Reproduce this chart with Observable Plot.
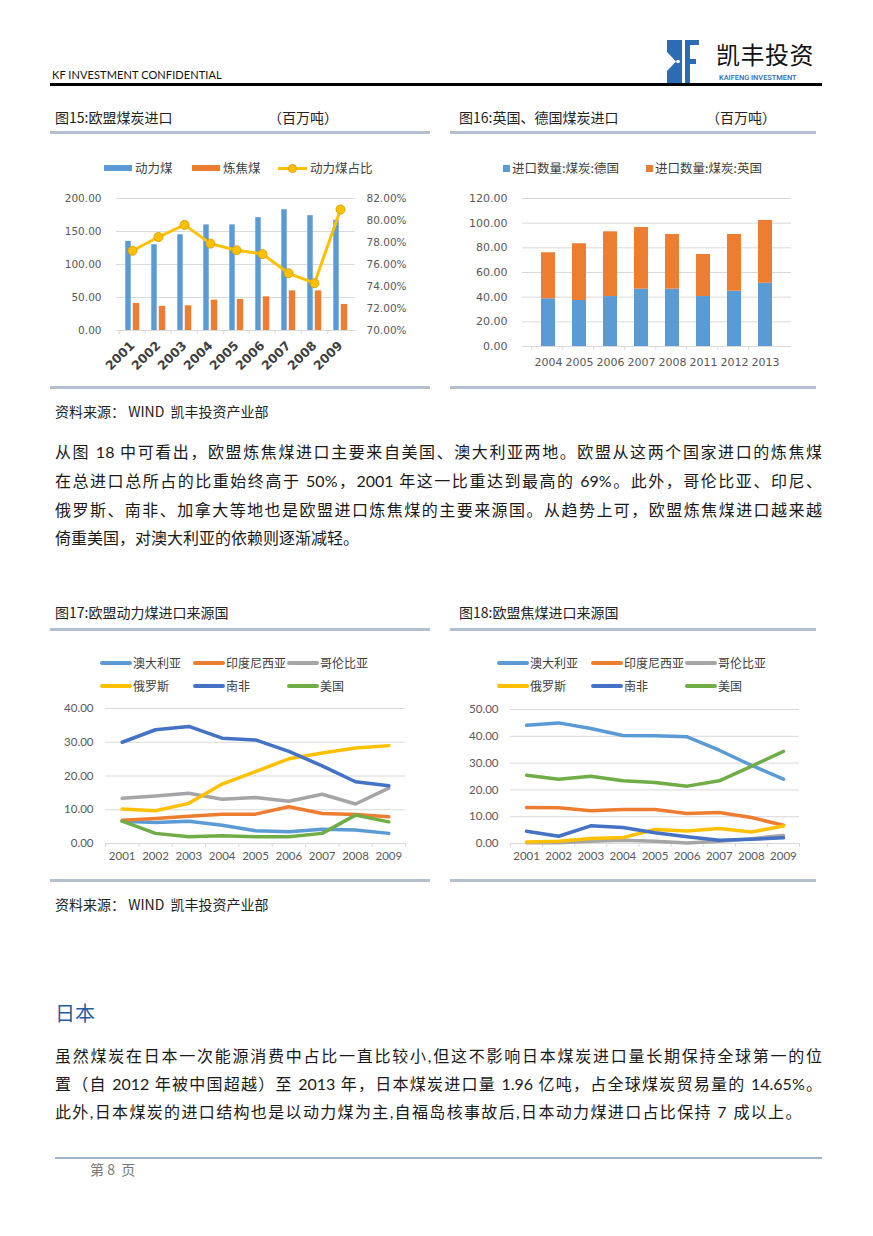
<!DOCTYPE html>
<html><head><meta charset="utf-8">
<script src="https://cdn.jsdelivr.net/npm/d3@7"></script>
<script src="https://cdn.jsdelivr.net/npm/@observablehq/plot@0.6"></script>
<style>
body{margin:0;background:#fff;}
#page{position:relative;width:873px;height:1236px;overflow:hidden;background:#fff;font-family:"Noto Sans CJK SC","Noto Sans",sans-serif;color:#222;}
.t{position:absolute;white-space:nowrap;}
.ttl{font-size:14px;line-height:20px;color:#222;}
.src{font-size:14px;line-height:20px;color:#222;}
.lg{position:absolute;font-size:12.5px;line-height:16px;color:#404040;white-space:nowrap;}
.para{position:absolute;left:55px;width:767px;font-family:"Lato","Noto Sans CJK SC",sans-serif;font-size:16px;line-height:22px;color:#1a1a1a;white-space:nowrap;}
.j{text-align:justify;text-align-last:justify;white-space:normal;}
</style>
</head><body>
<div id="page"></div>
<script>
// ---------- DATA ----------
// Fig 15: EU coal imports (million tonnes) and steam-coal share (%)
const years15 = ["2001","2002","2003","2004","2005","2006","2007","2008","2009"];
const steam15 = [135, 130, 145, 160, 160, 171, 183, 174, 167];
const coking15 = [41, 36.6, 37.5, 46, 47, 51, 60, 60, 39.5];
const share15 = [77.25, 78.5, 79.6, 77.9, 77.3, 76.95, 75.2, 74.3, 81.0];
const ticks15L = [0, 50, 100, 150, 200];
const ticks15R = [70, 72, 74, 76, 78, 80, 82];

// Fig 16: UK & Germany coal imports
const years16 = ["2004","2005","2006","2007","2008","2011","2012","2013"];
const series16 = ["进口数量:煤炭:德国","进口数量:煤炭:英国"];
const germany16 = [38.7, 37.3, 40.5, 46.5, 46.5, 40.5, 44.9, 51.3];
const uk16 = [37.3, 46.0, 52.5, 50.0, 44.3, 34.1, 45.9, 50.9];
const ticks16 = [0, 20, 40, 60, 80, 100, 120];

// Fig 17 / 18: source countries
const yearsSrc = [2001, 2002, 2003, 2004, 2005, 2006, 2007, 2008, 2009];
const countries = ["澳大利亚","印度尼西亚","哥伦比亚","俄罗斯","南非","美国"];
const countryColors = ["#5B9BD5","#ED7D31","#A5A5A5","#FFC000","#4472C4","#70AD47"];
// steam coal
const steamAus = [6.6, 6.2, 6.6, 5.4, 3.75, 3.45, 4.2, 4.0, 3.0];
const steamIdn = [6.9, 7.4, 8.1, 8.7, 8.7, 10.9, 8.9, 8.6, 7.9];
const steamCol = [13.4, 14.1, 14.9, 13.1, 13.6, 12.5, 14.6, 11.7, 16.4];
const steamRus = [10.2, 9.7, 11.9, 17.6, 21.3, 25.1, 26.8, 28.3, 29.0];
const steamZaf = [30.0, 33.7, 34.7, 31.2, 30.7, 27.3, 23.0, 18.3, 17.1];
const steamUsa = [6.6, 3.0, 2.0, 2.3, 2.0, 2.0, 3.0, 8.4, 6.4];
const ticks17 = [0, 10, 20, 30, 40];
// coking coal
const cokeAus = [44.1, 45.0, 42.9, 40.3, 40.2, 39.8, 34.8, 29.2, 24.0];
const cokeIdn = [13.4, 13.3, 12.2, 12.7, 12.7, 11.2, 11.6, 9.7, 6.8];
const cokeCol = [0.3, 0.3, 0.8, 1.2, 0.8, 0.2, 0.8, 1.8, 3.0];
const cokeRus = [0.6, 0.8, 1.9, 2.2, 5.2, 4.7, 5.6, 4.3, 6.5];
const cokeZaf = [4.6, 2.7, 6.6, 6.0, 4.0, 2.5, 1.2, 1.6, 2.1];
const cokeUsa = [25.5, 24.0, 25.1, 23.4, 22.8, 21.4, 23.4, 28.8, 34.4];
const ticks18 = [0, 10, 20, 30, 40, 50];

// ---------- helpers ----------
const page = document.getElementById("page");
function put(node, left, top) {
  node.style.position = "absolute";
  node.style.left = left + "px";
  node.style.top = top + "px";
  page.appendChild(node);
  return node;
}
function text(cls, str, left, cy, extra) {
  const d = document.createElement("div");
  d.className = cls;
  d.textContent = str;
  put(d, left, 0);
  if (extra) Object.assign(d.style, extra);
  const lh = parseFloat(getComputedStyle(d).lineHeight) || 20;
  d.style.top = (cy - lh / 2) + "px";
  return d;
}
function box(left, top, w, h, bg, extra) {
  const d = document.createElement("div");
  d.style.width = w + "px"; d.style.height = h + "px"; d.style.background = bg;
  put(d, left, top);
  if (extra) Object.assign(d.style, extra);
  return d;
}
const fmt2 = d => d.toFixed(2);
const gridColor = "#d9d9d9";
const axisText = "#595959";

// ---------- header ----------
text("t", "KF INVESTMENT CONFIDENTIAL", 52, 75, {fontFamily: "Lato, sans-serif", fontSize: "11px", lineHeight: "14px", color: "#111", letterSpacing: "0.1px"});
box(50, 83, 772, 3, "#000");
(function logo() {
  const ns = "http://www.w3.org/2000/svg";
  const s = document.createElementNS(ns, "svg");
  s.setAttribute("width", 34); s.setAttribute("height", 43);
  s.innerHTML = '<rect x="0" y="0" width="15" height="43" fill="#2b6cb5"/>' +
    '<polygon points="0,12 9,21.5 0,31" fill="#fff"/>' +
    '<circle cx="11" cy="21.5" r="1.8" fill="#fff"/>' +
    '<rect x="18" y="0" width="5" height="43" fill="#2b6cb5"/>' +
    '<rect x="18" y="0" width="14" height="5" fill="#2b6cb5"/>' +
    '<rect x="18" y="19" width="11" height="5" fill="#2b6cb5"/>';
  put(s, 667, 40);
  text("t", "凯丰投资", 716, 54, {fontSize: "24px", lineHeight: "28px", color: "#111", letterSpacing: "0.5px"});
  text("t", "KAIFENG INVESTMENT", 719, 77.5, {fontFamily: "Roboto, sans-serif", fontSize: "7.4px", lineHeight: "9px", color: "#2b6cb5", fontWeight: "500"});
})();

// ---------- Fig 15 ----------
text("t ttl", "图15:欧盟煤炭进口", 55, 117);
text("t ttl", "（百万吨）", 268, 117);
box(50, 131, 380, 3, "#b4c0cf");
box(50, 386, 380, 3, "#b4c0cf");
// legend
box(104, 165, 28, 6, "#5B9BD5");
text("lg", "动力煤", 135, 168);
box(192, 165, 28, 6, "#ED7D31");
text("lg", "炼焦煤", 223, 168);
box(278, 166.5, 29, 3, "#FFC000");
box(288, 163.5, 9, 9, "#FFC000", {borderRadius: "50%", boxSizing: "border-box", border: "1px solid #D9A400"});
text("lg", "动力煤占比", 310, 168);

const t15 = years15.map((y, i) => ({year: y, steam: steam15[i], coking: coking15[i], share: share15[i]}));
const W15 = 380, H15 = 200, M15 = {top: 13, right: 75, bottom: 55, left: 66};
const bw15 = (W15 - M15.left - M15.right) / years15.length;
const style15 = {fontFamily: "'DejaVu Sans', sans-serif", fontSize: "10.5px", color: axisText, background: "transparent", overflow: "visible"};
const c15 = Plot.plot({
  width: W15, height: H15,
  marginTop: M15.top, marginRight: M15.right, marginBottom: M15.bottom, marginLeft: M15.left,
  x: {type: "band", domain: years15, padding: 0},
  y: {domain: [0, 200]},
  style: style15,
  marks: [
    Plot.gridY({ticks: ticks15L, stroke: gridColor, strokeOpacity: 1}),
    Plot.axisY({ticks: ticks15L, tickSize: 0, tickPadding: 15, tickFormat: fmt2, fill: axisText, label: null}),
    Plot.barY(t15, {x: "year", y: "steam", fill: "#5B9BD5", insetLeft: bw15 / 2 - 7, insetRight: bw15 / 2 + 1}),
    Plot.barY(t15, {x: "year", y: "coking", fill: "#ED7D31", insetLeft: bw15 / 2 + 0.5, insetRight: bw15 / 2 - 7.5}),
    Plot.ruleY([0], {stroke: gridColor}),
    Plot.axisX({tickSize: 4, tickFormat: () => "", dx: -bw15 / 2, stroke: gridColor, label: null}),
    Plot.axisX({tickSize: 0, tickPadding: 13, tickRotate: -45, fontWeight: "bold", fontSize: 12.5, fill: "#404040", label: null})
  ]
});
put(c15, 50, 185);
const c15b = Plot.plot({
  width: W15, height: H15,
  marginTop: M15.top, marginRight: M15.right, marginBottom: M15.bottom, marginLeft: M15.left,
  x: {type: "band", domain: years15, padding: 0, axis: null},
  y: {domain: [70, 82]},
  style: style15,
  marks: [
    Plot.axisY({anchor: "right", ticks: ticks15R, tickSize: 0, tickPadding: 11, tickFormat: d => d.toFixed(2) + "%", fill: axisText, label: null}),
    Plot.line(t15, {x: "year", y: "share", stroke: "#FFC000", strokeWidth: 3, strokeLinejoin: "round"}),
    Plot.dot(t15, {x: "year", y: "share", r: 4.5, fill: "#FFC000", stroke: "#D9A400", strokeWidth: 1})
  ]
});
put(c15b, 50, 185);

// ---------- Fig 16 ----------
text("t ttl", "图16:英国、德国煤炭进口", 459, 117);
text("t ttl", "（百万吨）", 706, 117);
box(450, 131, 366, 3, "#b4c0cf");
box(450, 386, 366, 3, "#b4c0cf");
box(503, 165, 7, 7, "#5B9BD5");
text("lg", series16[0], 512, 168);
box(646, 165, 7, 7, "#ED7D31");
text("lg", series16[1], 655, 168);

const t16 = [];
years16.forEach((y, i) => {
  t16.push({year: y, series: series16[0], value: germany16[i]});
  t16.push({year: y, series: series16[1], value: uk16[i]});
});
const c16 = Plot.plot({
  width: 366, height: 200,
  marginTop: 13, marginRight: 25, marginBottom: 39, marginLeft: 72,
  x: {type: "band", domain: years16, padding: 0.55},
  y: {domain: [0, 120]},
  color: {domain: series16, range: ["#5B9BD5", "#ED7D31"]},
  style: {fontFamily: "'DejaVu Sans', sans-serif", fontSize: "11px", color: axisText, background: "transparent", overflow: "visible"},
  marks: [
    Plot.gridY({ticks: ticks16, stroke: gridColor, strokeOpacity: 1}),
    Plot.axisY({ticks: ticks16, tickSize: 0, tickPadding: 15, tickFormat: fmt2, fill: axisText, label: null}),
    Plot.barY(t16, {x: "year", y: "value", fill: "series"}),
    Plot.ruleY([0], {stroke: gridColor}),
    Plot.axisX({tickSize: 4, tickFormat: () => "", dx: -(366 - 97) / years16.length / 2, stroke: gridColor, label: null}),
    Plot.axisX({tickSize: 0, tickPadding: 12, fill: axisText, label: null})
  ]
});
put(c16, 450, 185);

// ---------- Fig 17 / 18 ----------
function longTable(arrs) {
  const out = [];
  arrs.forEach((arr, k) => arr.forEach((v, i) => out.push({year: yearsSrc[i], country: countries[k], value: v})));
  return out;
}
function srcLegend(cols) {
  const rows = [663, 686];
  countries.forEach((c, k) => {
    const r = Math.floor(k / 3), col = k % 3;
    box(cols[col], rows[r] - 2, 32, 4, countryColors[k], {borderRadius: "2px"});
    text("lg", c, cols[col] + 33, rows[r], {fontSize: "12px"});
  });
}
function srcChart(arrs, ticks, W, M) {
  const xDom = [yearsSrc[0] - 0.5, yearsSrc[yearsSrc.length - 1] + 0.5];
  return Plot.plot({
    width: W, height: 185,
    marginTop: M.top, marginRight: M.right, marginBottom: M.bottom, marginLeft: M.left,
    x: {domain: xDom},
    y: {domain: [ticks[0], ticks[ticks.length - 1]]},
    color: {domain: countries, range: countryColors},
    style: {fontFamily: "Lato, sans-serif", fontSize: "11.5px", color: axisText, background: "transparent", overflow: "visible"},
    marks: [
      Plot.gridY({ticks, stroke: gridColor, strokeOpacity: 1}),
      Plot.axisY({ticks, tickSize: 0, tickPadding: 12, tickFormat: fmt2, fill: axisText, label: null}),
      Plot.axisX({ticks: d3.range(xDom[0], xDom[1] + 0.01, 1), tickSize: 4, tickFormat: () => "", stroke: gridColor, label: null}),
      Plot.axisX({ticks: yearsSrc, tickSize: 0, tickPadding: 8, tickFormat: d => String(d), fill: axisText, label: null}),
      Plot.line(longTable(arrs), {x: "year", y: "value", stroke: "country", strokeWidth: 3.5, strokeLinecap: "round", strokeLinejoin: "round"})
    ]
  });
}

text("t ttl", "图17:欧盟动力煤进口来源国", 55, 612);
box(50, 628, 380, 3, "#b4c0cf");
box(50, 879, 380, 3, "#b4c0cf");
srcLegend([100, 193, 287]);
put(srcChart([steamAus, steamIdn, steamCol, steamRus, steamZaf, steamUsa], ticks17, 380, {top: 13, right: 25, bottom: 37, left: 55}), 50, 695);

text("t ttl", "图18:欧盟焦煤进口来源国", 459, 612);
box(450, 628, 366, 3, "#b4c0cf");
box(450, 879, 366, 3, "#b4c0cf");
srcLegend([497, 591, 685]);
put(srcChart([cokeAus, cokeIdn, cokeCol, cokeRus, cokeZaf, cokeUsa], ticks18, 366, {top: 14, right: 17, bottom: 37, left: 60}), 450, 695);

// ---------- source lines ----------
text("t src", "资料来源： WIND\u00a0\u00a0凯丰投资产业部", 55, 411);
text("t src", "资料来源： WIND\u00a0\u00a0凯丰投资产业部", 55, 904);

// ---------- body text ----------
const para1 = [
  "从图 18 中可看出，欧盟炼焦煤进口主要来自美国、澳大利亚两地。欧盟从这两个国家进口的炼焦煤",
  "在总进口总所占的比重始终高于 50%，2001 年这一比重达到最高的 69%。此外，哥伦比亚、印尼、",
  "俄罗斯、南非、加拿大等地也是欧盟进口炼焦煤的主要来源国。从趋势上可，欧盟炼焦煤进口越来越",
  "倚重美国，对澳大利亚的依赖则逐渐减轻。"
];
[452, 481, 510, 538].forEach((cy, i) => {
  text("para" + (i < 3 ? " j" : ""), para1[i], 55, cy);
});
text("t", "日本", 55, 1013, {fontSize: "20px", lineHeight: "26px", color: "#1f5e9e"});
const para2 = [
  "虽然煤炭在日本一次能源消费中占比一直比较小,但这不影响日本煤炭进口量长期保持全球第一的位",
  "置（自 2012 年被中国超越）至 2013 年，日本煤炭进口量 1.96 亿吨，占全球煤炭贸易量的 14.65%。",
  "此外,日本煤炭的进口结构也是以动力煤为主,自福岛核事故后,日本动力煤进口占比保持 7 成以上。"
];
[1056, 1084, 1112].forEach((cy, i) => {
  text("para" + (i < 2 ? " j" : ""), para2[i], 55, cy, i === 2 ? {letterSpacing: "1.35px"} : null);
});
box(55, 1157, 767, 1.5, "#9fb4c8");
text("t", "第\u00a08\u00a0\u00a0页", 90, 1169, {fontSize: "14px", lineHeight: "18px", color: "#777"});
</script>
</body></html>
